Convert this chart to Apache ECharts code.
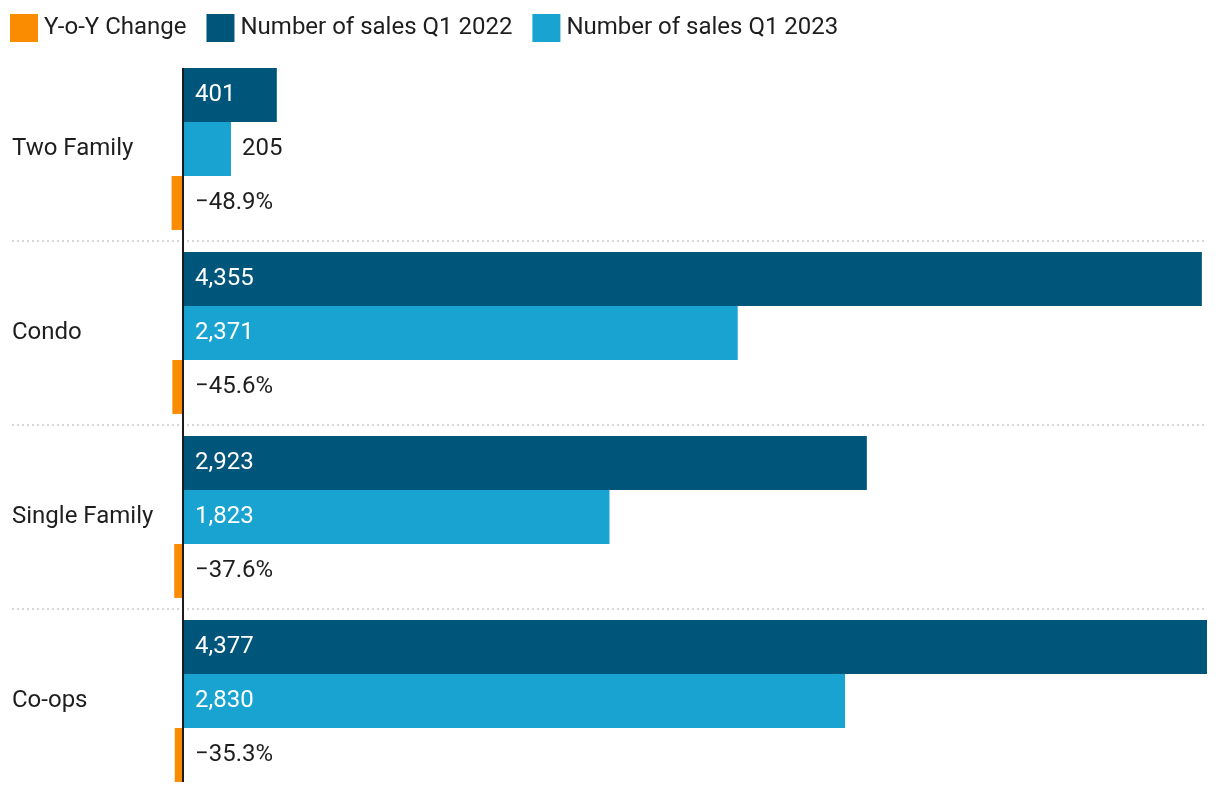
<!DOCTYPE html>
<html>
<head>
<meta charset="utf-8">
<script src="https://cdn.jsdelivr.net/npm/echarts@6/dist/echarts.min.js"></script>
<style>
html,body{margin:0;padding:0;background:#fff;}
#chart{width:1220px;height:794px;}
</style>
</head>
<body>
<div id="chart"></div>
<script>
const categories = ['Two Family', 'Condo', 'Single Family', 'Co-ops'];
const sales2022 = [401, 4355, 2923, 4377];
const sales2023 = [205, 2371, 1823, 2830];
const yoyChange = [-48.9, -45.6, -37.6, -35.3];
const seriesNames = ['Y-o-Y Change', 'Number of sales Q1 2022', 'Number of sales Q1 2023'];

const COL_YOY = '#f98c00';
const COL_22 = '#00557b';
const COL_23 = '#19a3d0';
const TXT = '#1e1e1e';
const FONT = 'Roboto';
const FS = 24;

const fmtNum = v => v.toLocaleString('en-US');
const fmtPct = v => (v < 0 ? '\u2212' : '') + Math.abs(v).toFixed(1) + '%';

function barData(values) {
  return values.map(v => {
    if (v < 300) {
      return { value: v, label: { position: 'right', distance: 11, color: TXT } };
    }
    return v;
  });
}

const chart = echarts.init(document.getElementById('chart'), null, { renderer: 'canvas' });

const option = {
  animation: false,
  backgroundColor: '#ffffff',
  textStyle: { fontFamily: FONT },
  legend: {
    data: seriesNames,
    left: 10,
    top: 14,
    padding: 0,
    itemWidth: 28,
    itemHeight: 28,
    itemGap: 20,
    icon: 'rect',
    textStyle: { fontFamily: FONT, fontSize: FS, color: TXT, padding: [0, 0, 0, 1] }
  },
  grid: { left: 12, right: 13, top: 57, bottom: 1, containLabel: false },
  xAxis: {
    type: 'value',
    min: -731,
    max: 'dataMax',
    show: false
  },
  yAxis: {
    type: 'category',
    data: categories,
    inverse: true,
    axisLine: { show: false, onZero: false },
    axisTick: { show: false },
    axisLabel: {
      inside: true,
      margin: 0,
      fontFamily: FONT,
      fontSize: FS,
      color: TXT,
      padding: [5, 0, 0, 0]
    },
    splitLine: {
      show: true,
      showMinLine: false,
      showMaxLine: false,
      lineStyle: { color: '#cccccc', width: 1.5, type: [2, 3] }
    }
  },
  series: [
    {
      name: seriesNames[1],
      type: 'bar',
      data: barData(sales2022),
      itemStyle: { color: COL_22 },
      barGap: '0%',
      barCategoryGap: '12%',
      label: {
        show: true, position: 'insideLeft', distance: 12,
        color: '#ffffff', fontFamily: FONT, fontSize: FS,
        padding: [2, 0, 0, 0],
        formatter: p => fmtNum(p.value)
      }
    },
    {
      name: seriesNames[2],
      type: 'bar',
      data: barData(sales2023),
      itemStyle: { color: COL_23 },
      barGap: '0%',
      barCategoryGap: '12%',
      label: {
        show: true, position: 'insideLeft', distance: 12,
        color: '#ffffff', fontFamily: FONT, fontSize: FS,
        padding: [2, 0, 0, 0],
        formatter: p => fmtNum(p.value)
      }
    },
    {
      name: seriesNames[0],
      type: 'bar',
      data: yoyChange,
      itemStyle: { color: COL_YOY },
      barGap: '0%',
      barCategoryGap: '12%',
      label: {
        show: true, position: 'right', distance: 12,
        color: TXT, fontFamily: FONT, fontSize: FS,
        padding: [2, 0, 0, 0],
        formatter: p => fmtPct(p.value)
      }
    }
  ]
};

chart.setOption(option);

// zero line spanning from top of the first bar group to bottom of the last one
const x0 = chart.convertToPixel({ xAxisIndex: 0 }, 0);
const yFirst = chart.convertToPixel({ yAxisIndex: 0 }, 0);
const yLast = chart.convertToPixel({ yAxisIndex: 0 }, categories.length - 1);
const band = (yLast - yFirst) / (categories.length - 1);
const half = band * (1 - 0.12) / 2;
chart.setOption({
  graphic: [{
    type: 'line',
    z: 100,
    shape: { x1: x0, y1: yFirst - half, x2: x0, y2: yLast + half },
    style: { stroke: '#1a1a1a', lineWidth: 2 }
  }]
});
</script>
</body>
</html>
